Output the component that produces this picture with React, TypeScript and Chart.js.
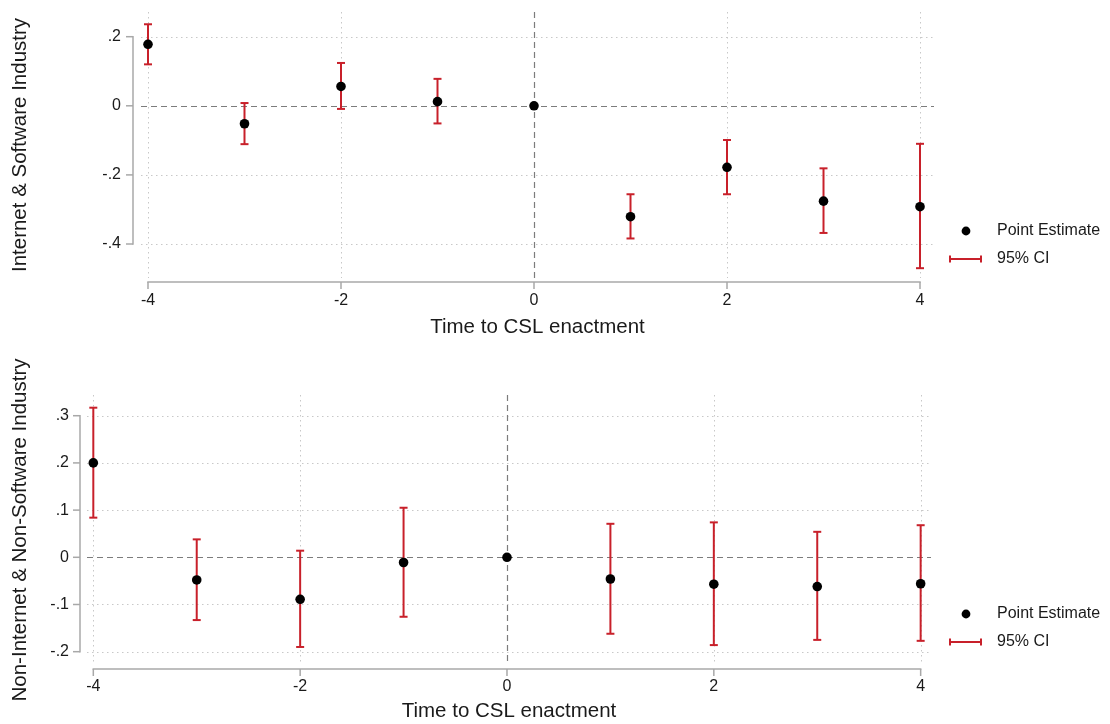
import { useEffect, useRef } from 'react';
import { Chart, registerables } from 'chart.js';

Chart.register(...registerables);

// Event-study estimates: years relative to CSL enactment
const PERIODS = [-4, -3, -2, -1, 0, 1, 2, 3, 4];
const X_TICKS = [-4, -2, 0, 2, 4];

// Internet & software industry
const IT_EST = [0.178, -0.052, 0.056, 0.012, 0, -0.321, -0.178, -0.276, -0.292];
const IT_LO = [0.12, -0.111, -0.009, -0.051, null, -0.384, -0.256, -0.368, -0.47];
const IT_HI = [0.236, 0.008, 0.124, 0.078, null, -0.256, -0.099, -0.181, -0.11];
const IT_Y_TICKS = [-0.4, -0.2, 0, 0.2];

// Non-internet & non-software industry
const NON_EST = [0.2, -0.048, -0.089, -0.011, 0, -0.046, -0.057, -0.062, -0.056];
const NON_LO = [0.084, -0.133, -0.19, -0.126, null, -0.162, -0.186, -0.175, -0.177];
const NON_HI = [0.317, 0.038, 0.014, 0.105, null, 0.071, 0.074, 0.054, 0.068];
const NON_Y_TICKS = [-0.2, -0.1, 0, 0.1, 0.2, 0.3];

const LEGEND_LABELS = ['Point Estimate', '95% CI'];
const X_TITLE = 'Time to CSL enactment';

const FONT = '"Liberation Sans", Arial, Helvetica, sans-serif';
const TEXT = '#1a1a1a';
const RED = '#c8202a';
const AXIS = '#a8a8a8';
const GRID = '#c8c8c8';
const REF = '#7c7c7c';

type Maybe = number | null;

interface Panel {
  yTitle: string;
  est: number[];
  lo: Maybe[];
  hi: Maybe[];
  yTicks: number[];
  yMin: number;
  yMax: number;
  xMin: number;
  xMax: number;
  height: number;
  padTop: number;
  padRight: number;
  yAxisWidth: number;
  xAxisHeight: number;
  yLabelPad: number;
  xLabelPad: number;
  yTitlePad: number;
  xTitlePad: number;
  yAxisGap: number;
  xAxisGap: number;
  legendY: [number, number];
}

const PANELS: Panel[] = [
  {
    yTitle: 'Internet & Software Industry',
    est: IT_EST,
    lo: IT_LO,
    hi: IT_HI,
    yTicks: IT_Y_TICKS,
    yMin: -0.4984,
    yMax: 0.2715,
    xMin: -4.0725,
    xMax: 4.145,
    height: 340,
    padTop: 12,
    padRight: 176,
    yAxisWidth: 141,
    xAxisHeight: 62,
    yLabelPad: 20,
    xLabelPad: 13,
    yTitlePad: 8,
    xTitlePad: 0,
    yAxisGap: 8,
    xAxisGap: 4,
    legendY: [231, 259],
  },
  {
    yTitle: 'Non-Internet & Non-Software Industry',
    est: NON_EST,
    lo: NON_LO,
    hi: NON_HI,
    yTicks: NON_Y_TICKS,
    yMin: -0.2282,
    yMax: 0.3439,
    xMin: -4.061,
    xMax: 4.1,
    height: 384,
    padTop: 55,
    padRight: 179,
    yAxisWidth: 87,
    xAxisHeight: 59,
    yLabelPad: 18,
    xLabelPad: 12,
    yTitlePad: 8,
    xTitlePad: 0,
    yAxisGap: 7,
    xAxisGap: 4,
    legendY: [274, 302],
  },
];

function formatY(v: number): string {
  if (Math.abs(v) < 1e-9) return '0';
  const s = Math.abs(v).toFixed(1).replace(/^0/, '');
  return (v < 0 ? '-' : '') + s;
}

function line(ctx: CanvasRenderingContext2D, x0: number, y0: number, x1: number, y1: number) {
  ctx.beginPath();
  ctx.moveTo(x0, y0);
  ctx.lineTo(x1, y1);
  ctx.stroke();
}

// Grid, reference lines, Stata-style axes, confidence intervals and legend
function decorPlugin(p: Panel) {
  return {
    id: 'panelDecor',
    beforeDatasetsDraw(chart: Chart) {
      const { ctx, chartArea: a } = chart;
      const x = chart.scales.x;
      const y = chart.scales.y;
      ctx.save();

      // dotted grid
      ctx.strokeStyle = GRID;
      ctx.lineWidth = 1;
      ctx.setLineDash([1.5, 3.5]);
      for (const v of p.yTicks) {
        if (v === 0) continue;
        const py = Math.round(y.getPixelForValue(v)) + 0.5;
        line(ctx, a.left, py, a.right, py);
      }
      for (const v of X_TICKS) {
        if (v === 0) continue;
        const px = Math.round(x.getPixelForValue(v)) + 0.5;
        line(ctx, px, a.top, px, a.bottom);
      }

      // dashed zero lines
      ctx.strokeStyle = REF;
      ctx.lineWidth = 1.2;
      ctx.setLineDash([6, 4]);
      const zy = Math.round(y.getPixelForValue(0)) + 0.5;
      line(ctx, a.left, zy, a.right, zy);
      const zx = Math.round(x.getPixelForValue(0)) + 0.5;
      line(ctx, zx, a.top, zx, a.bottom);

      // axes drawn over the tick range only
      ctx.setLineDash([]);
      ctx.strokeStyle = AXIS;
      ctx.lineWidth = 1.5;
      const ax = a.left - p.yAxisGap;
      const yTop = y.getPixelForValue(Math.max(...p.yTicks));
      const yBot = y.getPixelForValue(Math.min(...p.yTicks));
      line(ctx, ax, yTop - 0.75, ax, yBot + 0.75);
      for (const v of p.yTicks) {
        const py = y.getPixelForValue(v);
        line(ctx, ax - 7, py, ax, py);
      }
      const ay = a.bottom + p.xAxisGap;
      const xL = x.getPixelForValue(Math.min(...X_TICKS));
      const xR = x.getPixelForValue(Math.max(...X_TICKS));
      line(ctx, xL - 0.75, ay, xR + 0.75, ay);
      for (const v of X_TICKS) {
        const px = x.getPixelForValue(v);
        line(ctx, px, ay, px, ay + 7);
      }

      // confidence intervals
      ctx.strokeStyle = RED;
      ctx.lineWidth = 2;
      const cap = 4;
      PERIODS.forEach((t, i) => {
        const lo = p.lo[i];
        const hi = p.hi[i];
        if (lo == null || hi == null) return;
        const px = x.getPixelForValue(t);
        const pl = y.getPixelForValue(lo);
        const ph = y.getPixelForValue(hi);
        line(ctx, px, pl, px, ph);
        line(ctx, px - cap, pl, px + cap, pl);
        line(ctx, px - cap, ph, px + cap, ph);
      });

      // legend
      const [ly0, ly1] = p.legendY;
      ctx.fillStyle = '#000';
      ctx.beginPath();
      ctx.arc(966, ly0, 4.4, 0, Math.PI * 2);
      ctx.fill();
      ctx.strokeStyle = RED;
      ctx.lineWidth = 2;
      line(ctx, 950, ly1, 981, ly1);
      line(ctx, 950, ly1 - 3.5, 950, ly1 + 3.5);
      line(ctx, 981, ly1 - 3.5, 981, ly1 + 3.5);
      ctx.fillStyle = TEXT;
      ctx.font = `16px ${FONT}`;
      ctx.textAlign = 'left';
      ctx.textBaseline = 'middle';
      ctx.fillText(LEGEND_LABELS[0], 997, ly0);
      ctx.fillText(LEGEND_LABELS[1], 997, ly1);

      ctx.restore();
    },
  };
}

function PanelChart({ panel }: { panel: Panel }) {
  const ref = useRef<HTMLCanvasElement | null>(null);

  useEffect(() => {
    if (!ref.current) return;
    const p = panel;
    const chart = new Chart(ref.current, {
      type: 'scatter',
      data: {
        datasets: [
          {
            label: LEGEND_LABELS[0],
            data: PERIODS.map((t, i) => ({ x: t, y: p.est[i] })),
            pointRadius: 4.8,
            pointBackgroundColor: '#000',
            pointBorderWidth: 0,
            showLine: false,
          },
        ],
      },
      options: {
        animation: false,
        responsive: false,
        maintainAspectRatio: false,
        devicePixelRatio: 1,
        events: [],
        layout: { padding: { top: p.padTop, right: p.padRight, bottom: 0, left: 0 } },
        plugins: { legend: { display: false }, tooltip: { enabled: false } },
        scales: {
          x: {
            type: 'linear',
            min: p.xMin,
            max: p.xMax,
            afterBuildTicks: (s: any) => {
              s.ticks = X_TICKS.map((value) => ({ value }));
            },
            afterFit: (s: any) => {
              s.height = p.xAxisHeight;
              s.paddingLeft = 0;
              s.paddingRight = 0;
            },
            grid: { display: false, drawTicks: false },
            border: { display: false },
            ticks: {
              autoSkip: false,
              maxRotation: 0,
              padding: p.xLabelPad,
              color: TEXT,
              font: { family: FONT, size: 16 },
              callback: (v: any) => String(v),
            },
            title: {
              display: true,
              text: X_TITLE,
              color: TEXT,
              font: { family: FONT, size: 20.5 },
              padding: { top: 0, bottom: p.xTitlePad },
            },
          },
          y: {
            type: 'linear',
            min: p.yMin,
            max: p.yMax,
            afterBuildTicks: (s: any) => {
              s.ticks = p.yTicks.map((value) => ({ value }));
            },
            afterFit: (s: any) => {
              s.width = p.yAxisWidth;
              s.paddingTop = 0;
              s.paddingBottom = 0;
            },
            grid: { display: false, drawTicks: false },
            border: { display: false },
            ticks: {
              autoSkip: false,
              padding: p.yLabelPad,
              color: TEXT,
              font: { family: FONT, size: 16 },
              callback: (v: any) => formatY(Number(v)),
            },
            title: {
              display: true,
              text: p.yTitle,
              color: TEXT,
              font: { family: FONT, size: 20.5 },
              padding: { top: p.yTitlePad, bottom: 0 },
            },
          },
        },
      },
      plugins: [decorPlugin(p)],
    });
    return () => chart.destroy();
  }, [panel]);

  return (
    <canvas
      ref={ref}
      width={1110}
      height={panel.height}
      style={{ display: 'block', width: 1110, height: panel.height }}
    />
  );
}

export default function App() {
  return (
    <div
      style={{
        position: 'absolute',
        left: 0,
        top: 0,
        width: 1110,
        height: 724,
        background: '#fff',
        overflow: 'hidden',
      }}
    >
      {PANELS.map((p) => (
        <PanelChart key={p.yTitle} panel={p} />
      ))}
    </div>
  );
}
